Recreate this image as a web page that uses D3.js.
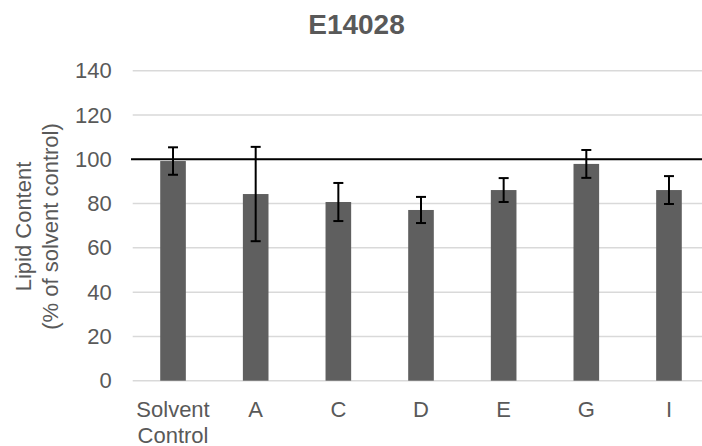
<!DOCTYPE html>
<html>
<head>
<meta charset="utf-8">
<script src="https://cdnjs.cloudflare.com/ajax/libs/d3/7.8.5/d3.min.js"></script>
<style>
  html, body { margin: 0; padding: 0; background: #fff; }
  svg { display: block; font-family: "Liberation Sans", Arial, sans-serif; }
</style>
</head>
<body>
<svg id="chart" width="702" height="446"></svg>
<script>
// Lipid content per treatment, % of solvent control, with error ranges
const chartTitle = "E14028";
const categories = ["Solvent\nControl", "A", "C", "D", "E", "G", "I"];
const means = [99.2, 84.3, 80.7, 77.1, 86.1, 97.9, 86.1];
const errors = [6.2, 21.3, 8.6, 5.9, 5.4, 6.3, 6.3];
const yTicks = [0, 20, 40, 60, 80, 100, 120, 140];
const referenceLevel = 100;

const svg = d3.select("#chart");
const W = 702;

const x = d3.scaleBand()
  .domain(categories)
  .range([131.7, 710.3])
  .paddingInner(0.69)
  .paddingOuter(0.345);

const y = d3.scaleLinear()
  .domain([0, 140])
  .range([380.7, 70.7]);

const textColor = "#595959";

// Horizontal gridlines
svg.append("g")
  .selectAll("line")
  .data(yTicks)
  .join("line")
  .attr("x1", 132.7)
  .attr("x2", W)
  .attr("y1", d => y(d))
  .attr("y2", d => y(d))
  .attr("stroke", "#d9d9d9")
  .attr("stroke-width", 1.5);

// Y axis tick labels
const yAxis = d3.axisLeft(y).tickValues(yTicks).tickSize(0).tickPadding(0);
const yg = svg.append("g")
  .attr("transform", "translate(111.7,0)")
  .call(yAxis);
yg.select(".domain").remove();
yg.selectAll("text")
  .attr("fill", textColor)
  .attr("font-size", 22)
  .attr("font-family", "Liberation Sans, Arial, sans-serif");

// Bars
svg.append("g")
  .selectAll("rect")
  .data(categories)
  .join("rect")
  .attr("x", d => x(d))
  .attr("width", x.bandwidth())
  .attr("y", (d, i) => y(means[i]))
  .attr("height", (d, i) => y(0) - y(means[i]))
  .attr("fill", "#5f5f5f");

// Reference line at 100 %
svg.append("line")
  .attr("x1", 131)
  .attr("x2", W)
  .attr("y1", y(referenceLevel))
  .attr("y2", y(referenceLevel))
  .attr("stroke", "#000")
  .attr("stroke-width", 2);

// Error bars
const capHalf = 5;
const eg = svg.append("g").attr("stroke", "#000").attr("stroke-width", 2);
categories.forEach((c, i) => {
  const cx = x(c) + x.bandwidth() / 2;
  const hi = y(means[i] + errors[i]);
  const lo = y(means[i] - errors[i]);
  eg.append("line").attr("x1", cx).attr("x2", cx).attr("y1", hi).attr("y2", lo);
  eg.append("line").attr("x1", cx - capHalf).attr("x2", cx + capHalf).attr("y1", hi).attr("y2", hi);
  eg.append("line").attr("x1", cx - capHalf).attr("x2", cx + capHalf).attr("y1", lo).attr("y2", lo);
});

// Category labels (may wrap onto two lines)
const xl = svg.append("g")
  .selectAll("text")
  .data(categories)
  .join("text")
  .attr("text-anchor", "middle")
  .attr("fill", textColor)
  .attr("font-size", 22)
  .attr("transform", d => `translate(${x(d) + x.bandwidth() / 2},417.3)`);
xl.each(function(d) {
  const lines = d.split("\n");
  d3.select(this).selectAll("tspan")
    .data(lines)
    .join("tspan")
    .attr("x", 0)
    .attr("y", (l, j) => j * 26)
    .text(l => l);
});

// Y axis title
const yt = svg.append("text")
  .attr("transform", "translate(31,226.5) rotate(-90)")
  .attr("text-anchor", "middle")
  .attr("fill", textColor)
  .attr("font-size", 22);
yt.append("tspan").attr("x", 0).attr("y", 0).text("Lipid Content");
yt.append("tspan").attr("x", 0).attr("y", 26.5).text("(% of solvent control)");

// Chart title
svg.append("text")
  .attr("x", 356.5)
  .attr("y", 34.3)
  .attr("text-anchor", "middle")
  .attr("fill", textColor)
  .attr("font-size", 28)
  .attr("font-weight", "bold")
  .text(chartTitle);
</script>
</body>
</html>
